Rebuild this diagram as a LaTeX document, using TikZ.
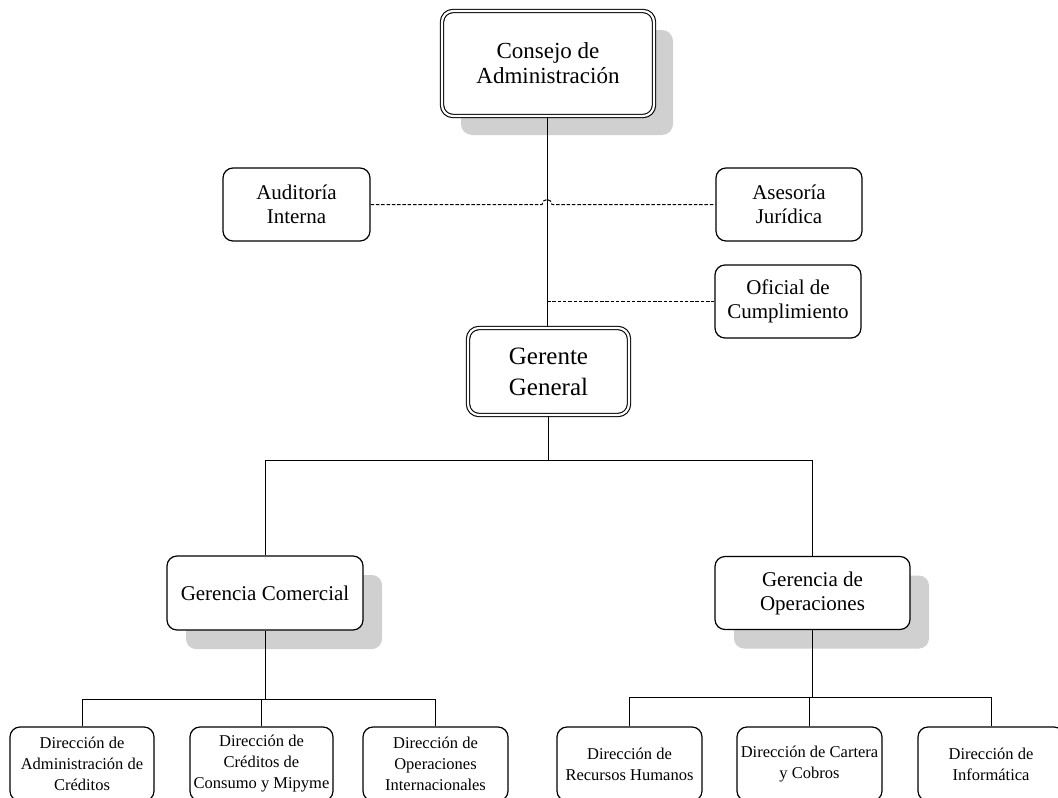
\documentclass[tikz,border=0pt]{standalone}
\usepackage{fontspec}
\setmainfont{Liberation Serif}
\usetikzlibrary{shadows}
\definecolor{shadowgray}{HTML}{D0D0D0}
\tikzset{
  box/.style={draw, rounded corners=10pt, fill=white, align=center,
    inner sep=0pt, line width=1.2pt},
  dbox/.style={box, rounded corners=11pt, line width=1.1pt, double=white,
    double distance=2.2pt},
  shade/.style={general shadow={shadow xshift=19pt, shadow yshift=-19pt,
    fill=shadowgray, draw=none}},
  link/.style={line width=1pt},
  staff/.style={line width=1pt, dash pattern=on 3.5pt off 1.8pt},
  topfont/.style={font=\fontsize{23}{25}\selectfont},
  genfont/.style={font=\fontsize{25}{31}\selectfont},
  midfont/.style={font=\fontsize{21}{24}\selectfont},
  lowfont/.style={font=\fontsize{16.5}{21}\selectfont},
}
\begin{document}
\begin{tikzpicture}[x=1pt,y=1pt]
\useasboundingbox (0,0) rectangle (1058,-798);
\clip (0,0) rectangle (1058,-798);

% board and general manager
\node[dbox, shade, topfont, minimum width=212pt, minimum height=105pt]
  (consejo) at (548,-63.5) {Consejo de\\Administración};
\node[dbox, genfont, minimum width=161pt, minimum height=87pt]
  (gerente) at (548.5,-371.5) {Gerente\\General};

% staff units
\node[box, midfont, minimum width=147pt, minimum height=73pt]
  (auditoria) at (296.5,-204.5) {Auditoría\\Interna};
\node[box, midfont, minimum width=146pt, minimum height=73pt]
  (asesoria) at (789,-204.5) {Asesoría\\Jurídica};
\node[box, midfont, minimum width=146pt, minimum height=73pt]
  (oficial) at (788,-301.5) {Oficial de\\Cumplimiento};

% managements
\node[box, shade, midfont, minimum width=196pt, minimum height=74pt]
  (gcom) at (265,-593) {Gerencia Comercial};
\node[box, shade, midfont, minimum width=195pt, minimum height=73pt]
  (gop) at (812.5,-593) {Gerencia de\\Operaciones};

% directorates
\node[box, lowfont, minimum width=144pt, minimum height=74pt]
  (d1) at (82,-764) {Dirección de\\Administración de\\Créditos};
\node[box, lowfont, minimum width=143pt, minimum height=74pt]
  (d2) at (261.5,-764) {Dirección de\\Créditos de\\Consumo y Mipyme};
\node[box, lowfont, minimum width=145pt, minimum height=74pt]
  (d3) at (435.5,-764) {Dirección de\\Operaciones\\Internacionales};
\node[box, lowfont, minimum width=145pt, minimum height=74pt]
  (d4) at (629.5,-764) {Dirección de\\Recursos Humanos};
\node[box, lowfont, minimum width=145pt, minimum height=74pt]
  (d5) at (809.5,-764) {Dirección de Cartera\\y Cobros};
\node[box, lowfont, minimum width=146pt, minimum height=74pt]
  (d6) at (991,-764) {Dirección de\\Informática};

% main line of authority
\coordinate (spine) at (547,0);
\draw[link] (spine |- consejo.south) -- (spine |- gerente.north);

% staff lines, with a hop over the main line
\draw[staff] (auditoria.east) -- ([xshift=-5pt]spine |- auditoria.east)
  arc[start angle=180, end angle=0, radius=5pt] -- (asesoria.west);
\draw[staff] (spine |- oficial.west) -- (oficial.west);

% general manager to managements
\coordinate (gbus) at (0,-460);
\draw[link] (gerente.south) -- (gerente.south |- gbus);
\draw[link] (gcom.north) -- (gcom.north |- gbus) -- (gop.north |- gbus) -- (gop.north);

% commercial management to its directorates
\coordinate (cbus) at (0,-699);
\draw[link] (gcom.south) -- (gcom.south |- cbus);
\draw[link] (d1.north) -- (d1.north |- cbus) -- (d3.north |- cbus) -- (d3.north);
\draw[link] (d2.north) -- (d2.north |- cbus);

% operations management to its directorates
\coordinate (obus) at (0,-697);
\draw[link] (gop.south) -- (gop.south |- obus);
\draw[link] (d4.north) -- (d4.north |- obus) -- (d6.north |- obus) -- (d6.north);
\draw[link] (d5.north) -- (d5.north |- obus);
\end{tikzpicture}
\end{document}
